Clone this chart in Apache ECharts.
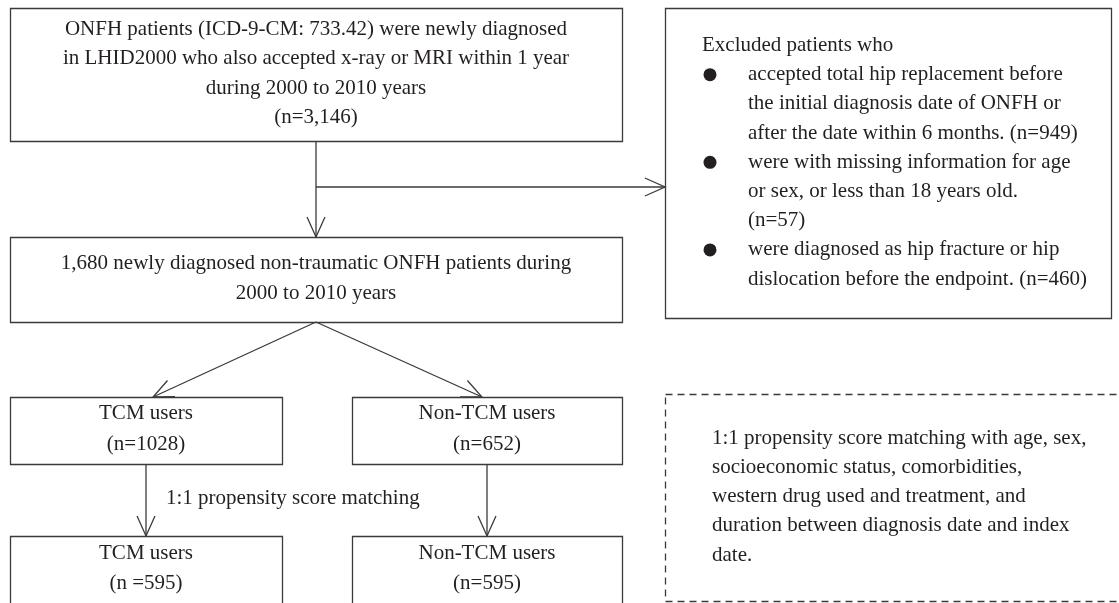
<!DOCTYPE html>
<html>
<head>
<meta charset="utf-8">
<script src="https://cdn.jsdelivr.net/npm/echarts@6/dist/echarts.min.js"></script>
<style>
  html, body { margin: 0; padding: 0; background: #fff; }
  #flow { width: 1119px; height: 603px; }
</style>
</head>
<body>
<div id="flow"></div>
<script>
// counts
const totalN = '3,146';
const cohortN = '1,680';
const excludedN = [949, 57, 460];
const groupNames = ['TCM users', 'Non-TCM users'];
const groupN = [1028, 652];
const matchedN = ['n =595', 'n=595'];

// box texts
const topLines = [
  'ONFH patients (ICD-9-CM: 733.42) were newly diagnosed',
  'in LHID2000 who also accepted x-ray or MRI within 1 year',
  'during 2000 to 2010 years',
  '(n=' + totalN + ')'
];
const cohortLines = [
  cohortN + ' newly diagnosed non-traumatic ONFH patients during',
  '2000 to 2010 years'
];
const excludeHead = 'Excluded patients who';
const excludeItems = [
  ['accepted total hip replacement before', 'the initial diagnosis date of ONFH or', 'after the date within 6 months. (n=' + excludedN[0] + ')'],
  ['were with missing information for age', 'or sex, or less than 18 years old.', '(n=' + excludedN[1] + ')'],
  ['were diagnosed as hip fracture or hip', 'dislocation before the endpoint. (n=' + excludedN[2] + ')']
];
const matchLabel = '1:1 propensity score matching';
const matchNote = [
  '1:1 propensity score matching with age, sex,',
  'socioeconomic status, comorbidities,',
  'western drug used and treatment, and',
  'duration between diagnosis date and index',
  'date.'
];

// layout (page pixels, used as axis units)
const FONT = '"Liberation Serif", "DejaVu Serif", serif';
const FS = 21;
const INK = '#231f20';
const EDGE = '#3a3a3a';
const lay = {
  top: [10, 8, 622, 141],
  cohort: [10, 237, 622, 322],
  exclude: [665, 8, 1111, 318],
  groups: [[10, 397, 282, 464], [352, 397, 622, 464]],
  matched: [[10, 536, 282, 650], [352, 536, 622, 650]],
  note: [665, 394, 1135, 601]
};

function centerX(b) { return (b[0] + b[2]) / 2; }

// assemble the boxes
const nodes = [];
nodes.push({ box: lay.top, texts: topLines.map((t, i) => ({ t, x: centerX(lay.top), y: 29 + i * 29.5, a: 'center' })) });
nodes.push({ box: lay.cohort, texts: cohortLines.map((t, i) => ({ t, x: centerX(lay.cohort), y: 263 + i * 30, a: 'center' })) });
(function () {
  const texts = [{ t: excludeHead, x: 702, y: 45.5, a: 'left' }];
  const dots = [];
  let k = 1;
  excludeItems.forEach(item => {
    dots.push([710, 45.5 + k * 29.2]);
    item.forEach(t => { texts.push({ t, x: 748, y: 45.5 + k * 29.2, a: 'left' }); k++; });
  });
  nodes.push({ box: lay.exclude, texts, dots });
})();
groupNames.forEach((g, i) => {
  const b = lay.groups[i];
  nodes.push({ box: b, texts: [{ t: g, x: centerX(b), y: 413, a: 'center' }, { t: '(n=' + groupN[i] + ')', x: centerX(b), y: 444, a: 'center' }] });
});
groupNames.forEach((g, i) => {
  const b = lay.matched[i];
  nodes.push({ box: b, texts: [{ t: g, x: centerX(b), y: 553, a: 'center' }, { t: '(' + matchedN[i] + ')', x: centerX(b), y: 583, a: 'center' }] });
});
nodes.push({ box: lay.note, dashed: true, texts: matchNote.map((t, i) => ({ t, x: 712, y: 438 + i * 29.3, a: 'left' })) });
nodes.push({ box: null, texts: [{ t: matchLabel, x: 166, y: 498, a: 'left' }] });

// connectors
const arrows = [
  [[316, 141], [316, 237]],
  [[316, 187], [665, 187]],
  [[316, 322], [153, 397]],
  [[316, 322], [482, 397]],
  [[146, 464], [146, 536]],
  [[487, 464], [487, 536]]
];

function renderNode(params, api) {
  const n = nodes[params.dataIndex];
  const children = [];
  if (n.box) {
    const p0 = api.coord([n.box[0], n.box[1]]);
    const p1 = api.coord([n.box[2], n.box[3]]);
    children.push({
      type: 'rect',
      shape: { x: p0[0] + 0.5, y: p0[1] + 0.5, width: p1[0] - p0[0], height: p1[1] - p0[1] },
      style: { fill: 'none', stroke: EDGE, lineWidth: 1.3, lineDash: n.dashed ? [7, 5] : null }
    });
  }
  (n.dots || []).forEach(d => {
    const c = api.coord(d);
    children.push({ type: 'circle', shape: { cx: c[0], cy: c[1], r: 6.5 }, style: { fill: INK } });
  });
  n.texts.forEach(tx => {
    const c = api.coord([tx.x, tx.y]);
    children.push({
      type: 'text', x: c[0], y: c[1],
      style: { text: tx.t, fill: INK, fontSize: FS, fontFamily: FONT, align: tx.a, verticalAlign: 'middle' }
    });
  });
  return { type: 'group', children };
}

function renderArrow(params, api) {
  const seg = arrows[params.dataIndex];
  const a = api.coord(seg[0]);
  const b = api.coord(seg[1]);
  const ang = Math.atan2(b[1] - a[1], b[0] - a[0]);
  const len = 22, spread = 0.42;
  const l = [b[0] - len * Math.cos(ang - spread), b[1] - len * Math.sin(ang - spread)];
  const r = [b[0] - len * Math.cos(ang + spread), b[1] - len * Math.sin(ang + spread)];
  const st = { fill: 'none', stroke: EDGE, lineWidth: 1.3 };
  return {
    type: 'group',
    children: [
      { type: 'polyline', shape: { points: [a, b] }, style: st },
      { type: 'polyline', shape: { points: [l, b, r] }, style: st }
    ]
  };
}

const chart = echarts.init(document.getElementById('flow'));
chart.setOption({
  animation: false,
  backgroundColor: '#fff',
  grid: { left: 0, right: 0, top: 0, bottom: 0 },
  xAxis: { type: 'value', min: 0, max: 1119, show: false },
  yAxis: { type: 'value', min: 0, max: 603, inverse: true, show: false },
  series: [
    {
      type: 'custom',
      clip: false,
      renderItem: renderArrow,
      data: arrows.map(s => s[0])
    },
    {
      type: 'custom',
      clip: false,
      renderItem: renderNode,
      data: nodes.map(n => n.box ? [n.box[0], n.box[1]] : n.texts[0] ? [n.texts[0].x, n.texts[0].y] : [0, 0])
    }
  ]
});
window.addEventListener('resize', () => chart.resize());
</script>
</body>
</html>
